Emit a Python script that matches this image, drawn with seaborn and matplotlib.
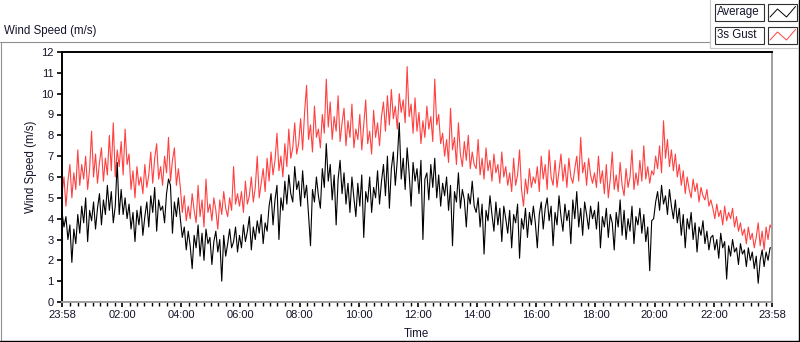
import numpy as np
import pandas as pd
import seaborn as sns
import matplotlib.pyplot as plt
from matplotlib.lines import Line2D
from matplotlib.patches import Rectangle
from matplotlib.ticker import FixedLocator

sns.set_style('white')
plt.rcParams['font.family'] = ['Liberation Sans', 'DejaVu Sans']
plt.rcParams['font.size'] = 8

# 4-minute samples starting at 23:58 (one row = 2 hours)
gust = [
    5.2, 6.0, 4.6, 5.8, 6.6, 5.0, 6.2, 5.4, 7.3, 5.6, 6.6, 5.9, 7.0, 5.4, 6.4, 8.2, 6.0, 7.1, 5.7, 6.7, 7.4, 5.8, 6.9, 6.1, 8.0, 6.3, 8.6, 6.0, 7.3, 6.5,
    7.7, 6.1, 8.3, 6.6, 7.1, 5.4, 6.3, 5.0, 6.5, 5.6, 6.0, 5.2, 6.6, 5.5, 6.1, 7.2, 5.7, 6.9, 7.6, 5.9, 6.5, 5.6, 7.0, 6.2, 7.9, 5.8, 6.8, 7.4, 5.6, 6.4,
    5.5, 4.3, 5.1, 3.9, 4.6, 4.0, 5.2, 4.4, 3.8, 5.6, 4.1, 4.9, 3.6, 5.9, 4.3, 4.7, 3.9, 5.0, 4.4, 3.5, 4.9, 4.2, 5.3, 4.5, 4.1, 5.0, 4.4, 6.5, 4.7, 5.2,
    4.6, 5.3, 4.3, 5.8, 4.7, 5.1, 6.0, 4.8, 5.5, 7.0, 5.0, 5.7, 6.4, 5.3, 6.9, 5.8, 7.2, 6.1, 6.8, 8.1, 6.3, 7.0, 6.0, 7.6, 6.5, 8.3, 6.9, 7.4, 8.6, 7.1,
    7.6, 8.8, 7.3, 9.1, 10.4, 7.8, 8.5, 7.2, 9.4, 7.9, 8.3, 7.4, 9.0, 8.1, 10.7, 8.4, 9.6, 7.8, 8.9, 8.2, 9.9, 7.7, 8.6, 9.3, 7.5, 8.7, 7.9, 9.5, 7.4, 8.3,
    7.8, 9.0, 7.3, 8.5, 9.7, 7.6, 8.2, 7.1, 9.2, 7.9, 8.6, 7.5, 8.9, 9.6, 8.2, 9.9, 8.5, 10.2, 8.8, 9.4, 8.3, 10.0, 9.1, 9.7, 8.6, 11.3, 8.9, 9.5, 8.1, 9.8,
    8.2, 9.1, 7.6, 8.7, 7.9, 9.4, 8.3, 8.9, 7.7, 10.7, 8.5, 9.0, 7.6, 8.1, 7.0, 7.8, 6.7, 9.3, 7.3, 7.9, 6.6, 8.6, 7.1, 6.5, 7.7, 6.8, 8.0, 6.4, 7.2, 6.6,
    6.4, 7.8, 6.1, 6.9, 5.9, 7.4, 6.3, 6.8, 5.8, 7.1, 6.2, 6.6, 5.7, 7.2, 6.0, 6.5, 5.6, 6.2, 5.3, 6.9, 5.6, 6.1, 7.3, 5.4, 4.6, 5.9, 5.2, 6.4, 5.5, 6.0,
    5.7, 6.5, 5.3, 7.0, 5.9, 6.6, 5.4, 7.3, 6.0, 5.6, 6.8, 5.5, 6.3, 7.1, 5.8, 6.6, 5.5, 6.9, 6.0, 5.7, 6.4, 7.0, 5.8, 7.9, 6.2, 6.7, 5.6, 6.9, 6.1, 5.7,
    6.2, 5.5, 7.0, 5.7, 6.3, 5.2, 6.6, 5.0, 5.9, 7.2, 5.4, 6.1, 5.3, 6.7, 5.6, 5.1, 6.4, 5.5, 6.0, 7.3, 5.4, 6.2, 5.6, 6.8, 5.8, 7.5, 5.9, 6.5, 5.7, 6.3,
    6.1, 7.0, 6.4, 7.5, 6.2, 8.7, 6.9, 7.8, 6.5, 7.3, 6.3, 7.1, 6.0, 6.6, 5.6, 6.3, 5.2, 6.0, 5.4, 5.0, 5.9, 5.3, 5.7, 4.8, 5.5, 5.1, 4.9, 5.4, 4.6, 4.9,
    4.5, 4.0, 4.7, 4.1, 4.4, 3.7, 4.6, 3.9, 4.3, 4.0, 4.5, 3.6, 4.1, 3.4, 3.8, 3.2, 3.5, 2.8, 3.6, 3.0, 3.3, 2.6, 3.1, 3.8, 2.7, 3.4, 2.5, 3.6, 3.0, 3.7,
    3.5,
]

average = [
    4.3, 3.6, 4.1, 3.0, 3.7, 1.9, 3.5, 2.8, 4.2, 3.3, 4.6, 3.8, 5.0, 2.9, 4.4, 3.9, 4.8, 3.5, 4.5, 5.2, 3.7, 4.9, 4.2, 5.6, 4.4, 5.3, 3.8, 4.6, 6.7, 4.2,
    5.4, 4.2, 5.0, 4.0, 4.7, 3.5, 4.3, 2.9, 4.4, 3.7, 4.6, 3.2, 4.1, 4.8, 3.6, 5.1, 4.3, 5.5, 3.4, 4.9, 4.4, 4.6, 3.8, 5.2, 5.9, 5.6, 3.3, 4.8, 4.1, 5.0,
    4.0, 3.1, 3.6, 2.5, 3.4, 2.7, 1.6, 3.2, 2.6, 3.7, 2.2, 3.3, 2.0, 3.5, 2.8, 3.1, 1.8, 2.9, 3.4, 2.4, 3.0, 1.0, 3.2, 2.2, 2.8, 3.5, 2.6, 2.9, 3.6, 2.4,
    3.2, 2.6, 3.7, 2.9, 3.4, 4.1, 2.5, 3.6, 3.0, 3.9, 3.3, 4.2, 2.8, 3.8, 3.4, 4.6, 5.2, 3.7, 4.9, 5.6, 3.0, 5.0, 4.4, 5.8, 4.7, 6.1, 5.2, 4.8, 6.5, 5.4,
    5.8, 4.6, 6.3, 5.0, 5.6, 4.2, 2.7, 5.4, 4.8, 6.0, 5.1, 4.5, 6.4, 5.5, 7.6, 5.8, 6.6, 4.9, 6.1, 3.7, 5.9, 6.8, 5.2, 6.2, 4.7, 5.7, 4.3, 6.0, 5.0, 4.1,
    5.7, 4.6, 6.1, 3.1, 5.3, 4.8, 6.0, 4.3, 5.5, 5.0, 6.3, 4.7, 5.8, 6.6, 5.1, 7.0, 4.5, 6.4, 7.2, 5.6, 6.8, 8.6, 5.9, 6.9, 5.4, 7.4, 6.2, 4.6, 6.7, 5.8,
    6.4, 5.2, 6.8, 3.0, 5.9, 6.2, 4.9, 6.6, 5.5, 6.9, 5.0, 6.1, 4.6, 5.7, 5.1, 6.0, 4.4, 5.6, 2.7, 5.3, 4.8, 6.2, 4.5, 5.4, 4.9, 3.6, 5.2, 4.7, 5.8, 4.6,
    4.3, 5.0, 3.6, 4.7, 2.3, 4.4, 3.9, 5.1, 4.2, 3.4, 4.8, 3.7, 4.5, 2.9, 4.6, 4.0, 3.3, 4.4, 2.6, 4.2, 3.8, 4.7, 2.1, 4.0, 3.5, 4.5, 3.1, 4.3, 3.7, 4.6,
    3.8, 2.6, 4.2, 4.8, 3.5, 4.5, 5.0, 3.9, 4.6, 2.7, 4.3, 3.7, 5.1, 4.1, 3.4, 4.7, 3.9, 4.4, 2.8, 4.9, 4.0, 5.3, 3.6, 4.5, 3.2, 4.8, 4.2, 3.5, 4.6, 4.0,
    4.4, 3.5, 4.8, 2.6, 4.1, 3.6, 4.5, 3.1, 4.2, 3.8, 2.5, 4.3, 3.6, 4.9, 3.2, 4.4, 3.0, 4.0, 3.4, 4.6, 2.8, 4.1, 3.7, 4.5, 3.3, 4.2, 2.9, 3.6, 1.5, 3.9,
    4.0, 4.8, 5.3, 4.4, 5.6, 4.7, 5.1, 4.2, 5.4, 4.6, 4.0, 4.9, 3.8, 4.5, 3.2, 4.2, 2.6, 4.0, 3.5, 4.3, 3.0, 3.8, 2.4, 3.6, 3.2, 3.9, 2.8, 3.4, 2.5, 3.1,
    3.2, 2.5, 3.0, 2.1, 3.3, 2.6, 2.9, 1.1, 2.7, 2.2, 3.0, 2.4, 2.6, 1.8, 2.8, 2.3, 2.5, 1.7, 2.6, 2.0, 2.4, 1.6, 2.2, 0.9, 2.0, 2.5, 1.7, 2.4, 2.0, 2.6,
    2.6,
]

minutes = np.arange(len(gust)) * 4
tick_labels = ['23:58', '02:00', '04:00', '06:00', '08:00', '10:00', '12:00',
               '14:00', '16:00', '18:00', '20:00', '22:00', '23:58']

df = pd.DataFrame({'Minutes': minutes, 'Gust': gust, 'Average': average})

W, H = 800, 342
fig = plt.figure(figsize=(W / 100, H / 100), dpi=100)
ax = fig.add_axes([62 / W, 1 - 302 / H, 710 / W, 250 / H])

sns.lineplot(data=df, x='Minutes', y='Gust', color='#ff4040', lw=0.8, ax=ax)
sns.lineplot(data=df, x='Minutes', y='Average', color='black', lw=0.8, ax=ax)

ax.set_xlim(0, 1440)
ax.set_ylim(0, 12)
ax.set_yticks(range(0, 13))

# tick positions in minutes from 23:58
tick_pos = [0] + [(int(t[:2]) * 60 + 2) for t in tick_labels[1:-1]] + [1440]
ax.set_xticks(tick_pos)
ax.set_xticklabels(tick_labels)
ax.xaxis.set_minor_locator(FixedLocator([2 + 15 * k for k in range(1, 96)]))

txt = '#14142a'
ax.tick_params(axis='both', which='major', direction='out', length=3.6, width=1.2,
               color='black', labelcolor=txt, labelsize=8, pad=2.5)
ax.tick_params(axis='x', which='minor', direction='out', length=2.6, width=1.0,
               color='black', bottom=True)
ax.tick_params(axis='x', which='major', bottom=True)
ax.tick_params(axis='y', which='major', left=True)
ax.set_xlabel('')
ax.set_ylabel('')

for side in ['top', 'left']:
    ax.spines[side].set_color('black')
    ax.spines[side].set_linewidth(1.4)
for side in ['bottom', 'right']:
    ax.spines[side].set_color('#a0a0a0')
    ax.spines[side].set_linewidth(1.4)

# labels
fig.text(4 / W, 1 - 31 / H, 'Wind Speed (m/s)', ha='left', va='center', color=txt, fontsize=8.3)
fig.text(31 / W, 1 - 167 / H, 'Wind Speed (m/s)', ha='center', va='center',
         rotation=90, color=txt, fontsize=8.3)
fig.text(416 / W, 1 - 334 / H, 'Time', ha='center', va='center', color=txt, fontsize=8.3)


def px_line(xs, ys, **kw):
    fig.add_artist(Line2D([x / W for x in xs], [1 - y / H for y in ys],
                          transform=fig.transFigure, **kw))


def px_rect(x0, y0, x1, y1, **kw):
    fig.add_artist(Rectangle((x0 / W, 1 - y1 / H), (x1 - x0) / W, (y1 - y0) / H,
                             transform=fig.transFigure, **kw))


# outer frame
px_line([0, 710], [42, 42], color='#909090', lw=0.8)
px_line([1, 1], [42, 340], color='#909090', lw=0.8)
px_line([0, 799], [340.5, 340.5], color='black', lw=1.0)
px_line([798.5, 798.5], [0, 341], color='black', lw=1.0)
# legend panel
px_line([710, 710], [0, 48], color='#c8c8c8', lw=0.8)
px_line([710, 797], [48, 48], color='#c8c8c8', lw=0.8)

legend_rows = [('Average', 'black', 4), ('3s Gust', '#ff4040', 27)]
for name, col, y0 in legend_rows:
    px_rect(715, y0, 764, y0 + 17, facecolor='white', edgecolor='#303030', lw=0.8)
    px_rect(768, y0, 797, y0 + 17, facecolor='white', edgecolor='#303030', lw=0.8)
    fig.text(717 / W, 1 - (y0 + 8.5) / H, name, ha='left', va='center',
             color=txt, fontsize=8.3)
    px_line([770, 777.5, 786.5, 795.5], [y0 + 13, y0 + 5, y0 + 13, y0 + 2.5],
            color=col, lw=0.7)

fig.savefig('out.png', dpi=100)
